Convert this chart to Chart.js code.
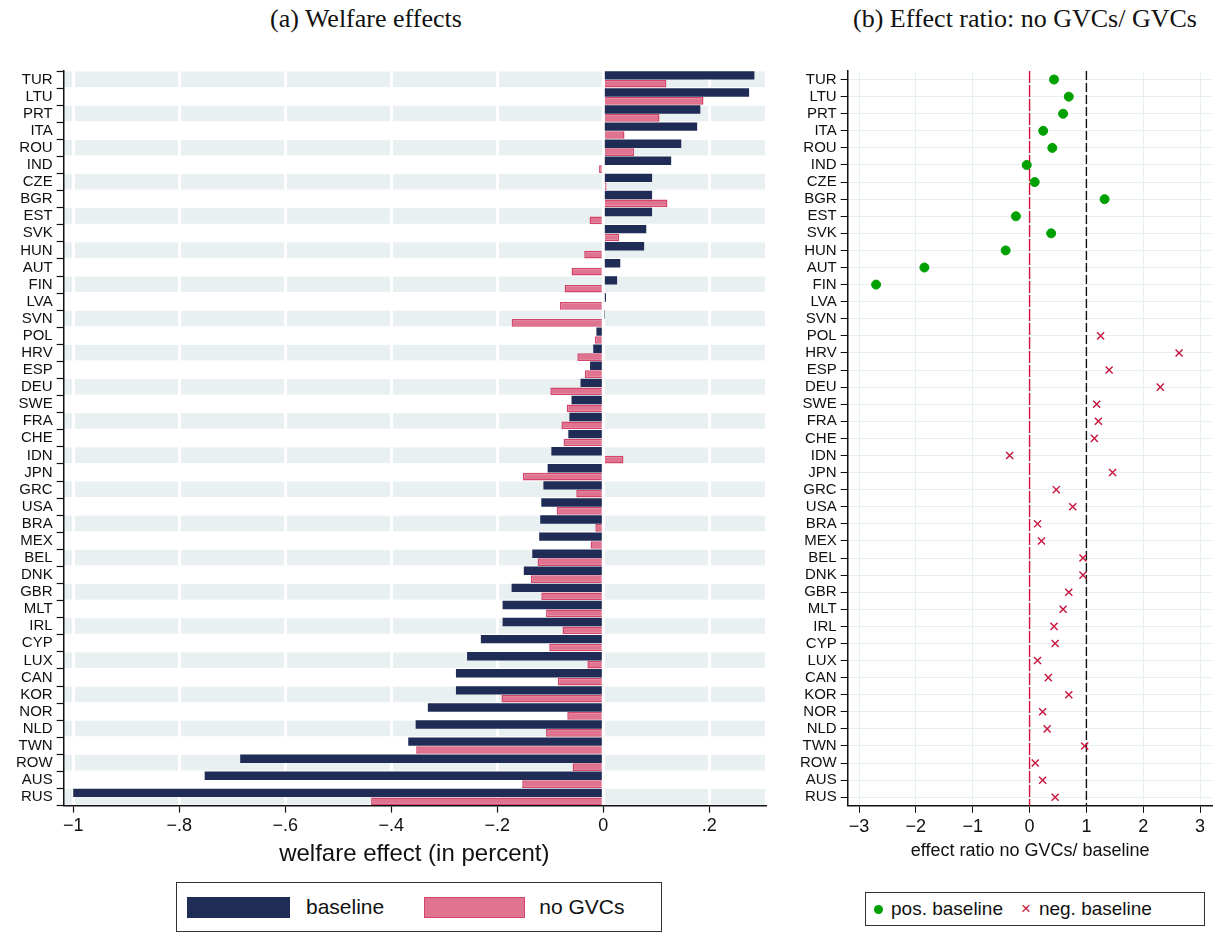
<!DOCTYPE html>
<html><head><meta charset="utf-8">
<script src="https://cdn.jsdelivr.net/npm/chart.js@4/dist/chart.umd.min.js"></script>
<style>
body{margin:0;background:#fff;width:1219px;height:940px;position:relative;font-family:"Liberation Sans",Arial,sans-serif;overflow:hidden}
.t{position:absolute;font-family:"Liberation Serif","Times New Roman",serif;font-size:26px;color:#111;top:4px}
.lg{position:absolute;border:1.5px solid #333;display:flex;align-items:center;font-size:21px;color:#111;box-sizing:border-box}
</style></head><body>
<div class="t" style="left:270px">(a) Welfare effects</div>
<div class="t" style="left:853px">(b) Effect ratio: no GVCs/ GVCs</div>
<div style="position:absolute;left:0;top:43px;width:775px;height:830px"><canvas id="c1"></canvas></div>
<div style="position:absolute;left:780px;top:40px;width:439px;height:826px"><canvas id="c2"></canvas></div>
<div class="lg" style="left:176px;top:882px;width:486px;height:50px;">
 <span style="display:inline-block;width:103px;height:21px;background:#1f2d56;margin-left:10px"></span><span style="margin-left:16px">baseline</span>
 <span style="display:inline-block;width:99px;height:19px;background:#e07490;border:1px solid #d4456b;margin-left:40px"></span><span style="margin-left:14px">no GVCs</span>
</div>
<div class="lg" style="left:865px;top:892px;width:340px;height:34px;font-size:19px">
 <span style="display:inline-block;width:9px;height:9px;border-radius:50%;background:#00a000;margin-left:8px"></span><span style="margin-left:8px">pos. baseline</span>
 <span style="margin-left:18px;color:#c8143c;font-size:17px">×</span><span style="margin-left:8px">neg. baseline</span>
</div>
<script>
const countries=["TUR","LTU","PRT","ITA","ROU","IND","CZE","BGR","EST","SVK","HUN","AUT","FIN","LVA","SVN","POL","HRV","ESP","DEU","SWE","FRA","CHE","IDN","JPN","GRC","USA","BRA","MEX","BEL","DNK","GBR","MLT","IRL","CYP","LUX","CAN","KOR","NOR","NLD","TWN","ROW","AUS","RUS"];
const baseline=[0.285,0.275,0.183,0.177,0.147,0.128,0.092,0.092,0.092,0.081,0.077,0.032,0.026,0.005,0.002,-0.013,-0.019,-0.025,-0.043,-0.060,-0.064,-0.066,-0.098,-0.105,-0.113,-0.117,-0.119,-0.121,-0.134,-0.150,-0.173,-0.190,-0.190,-0.231,-0.257,-0.278,-0.278,-0.331,-0.354,-0.368,-0.685,-0.752,-1.0];
const noGVCs=[0.119,0.189,0.106,0.040,0.058,-0.008,0.006,0.121,-0.026,0.030,-0.036,-0.060,-0.073,-0.082,-0.173,-0.016,-0.049,-0.035,-0.100,-0.069,-0.079,-0.075,0.038,-0.152,-0.051,-0.088,-0.015,-0.024,-0.124,-0.137,-0.117,-0.108,-0.077,-0.102,-0.030,-0.086,-0.192,-0.068,-0.108,-0.353,-0.058,-0.153,-0.438];
const ratioPos=[0.43,0.69,0.59,0.24,0.40,-0.05,0.09,1.32,-0.24,0.38,-0.42,-1.85,-2.70,null,null,null,null,null,null,null,null,null,null,null,null,null,null,null,null,null,null,null,null,null,null,null,null,null,null,null,null,null,null];
const ratioNeg=[null,null,null,null,null,null,null,null,null,null,null,null,null,null,null,1.25,2.63,1.40,2.30,1.18,1.21,1.14,-0.35,1.46,0.47,0.76,0.14,0.21,0.94,0.94,0.69,0.59,0.43,0.45,0.14,0.33,0.69,0.23,0.31,0.97,0.10,0.23,0.45];
const leftTicks=[-1,-0.8,-0.6,-0.4,-0.2,0,0.2];

const fmt=v=>{let s=Math.abs(v)<1e-9?"0":String(Math.round(v*10)/10).replace(/^(-?)0\./,"$1.");return s.replace("-","\u2212");};
const bands={id:'bands',beforeDraw(ch){const {ctx,chartArea:a,scales:{y}}=ch;ctx.save();ctx.fillStyle='#e9f0f2';
 countries.forEach((c,i)=>{if(i%2)return;const p=y.getPixelForValue(i);const h=(y.getPixelForValue(1)-y.getPixelForValue(0));ctx.fillRect(a.left,p-h/2+0.5,a.right-a.left,h-1.5);});ctx.restore();}};
const ytick={font:{size:15,family:'Liberation Sans'},color:'#111',autoSkip:false,padding:4};
new Chart(document.getElementById('c1'),{type:'bar',
 data:{labels:countries,datasets:[
  {label:'baseline',data:baseline,backgroundColor:'#1f2d56',borderWidth:0,barPercentage:1,categoryPercentage:0.98},
  {label:'no GVCs',data:noGVCs,backgroundColor:'#e07490',borderColor:'#d4456b',borderWidth:1.5,barPercentage:0.92,categoryPercentage:0.98}]},
 options:{indexAxis:'y',responsive:true,maintainAspectRatio:false,animation:false,
  layout:{padding:{top:28,right:10,left:12,bottom:0}},
  plugins:{legend:{display:false},tooltip:{enabled:false}},
  scales:{
   x:{min:-1.018,max:0.305,afterBuildTicks:s=>{s.ticks=leftTicks.map(v=>({value:v}));},
    ticks:{callback:v=>fmt(v),font:{size:18,family:'Liberation Sans'},color:'#111',maxRotation:0},
    grid:{color:'#ffffff',lineWidth:3,tickColor:'#111',tickLength:7,tickWidth:1.2},border:{color:'#111',width:1.5},
    title:{display:true,text:'welfare effect (in percent)',font:{size:24,family:'Liberation Sans'},color:'#111',padding:{top:0}}},
   y:{ticks:ytick,grid:{drawOnChartArea:false,tickLength:7,tickColor:'#111',tickWidth:1.2},border:{color:'#111',width:1.5}}}},
 plugins:[bands]});

const vlines={id:'vl',beforeDatasetsDraw(ch){const {ctx,chartArea:a,scales:{x}}=ch;ctx.save();
 [[0,'#d0103a',[12,2]],[1,'#111',[9,3]]].forEach(([v,c,d])=>{const px=x.getPixelForValue(v);ctx.strokeStyle=c;ctx.lineWidth=1.4;ctx.setLineDash(d);ctx.beginPath();ctx.moveTo(px,a.top);ctx.lineTo(px,a.bottom);ctx.stroke();});ctx.restore();}};
new Chart(document.getElementById('c2'),{type:'line',
 data:{labels:countries,datasets:[
  {label:'pos. baseline',data:ratioPos,showLine:false,pointStyle:'circle',pointRadius:4.5,backgroundColor:'#00a000',borderColor:'#00a000',indexAxis:'y'},
  {label:'neg. baseline',data:ratioNeg,showLine:false,pointStyle:'crossRot',pointRadius:5,borderWidth:1.4,borderColor:'#c8143c',backgroundColor:'#c8143c',indexAxis:'y'}]},
 options:{indexAxis:'y',responsive:true,maintainAspectRatio:false,animation:false,
  layout:{padding:{top:31,right:0,left:16,bottom:0}},
  plugins:{legend:{display:false},tooltip:{enabled:false}},
  scales:{
   x:{type:'linear',min:-3.2,max:3.22,afterBuildTicks:s=>{s.ticks=[-3,-2,-1,0,1,2,3].map(v=>({value:v}));},
    ticks:{callback:v=>String(v).replace('-','\u2212'),font:{size:18,family:'Liberation Sans'},color:'#111',maxRotation:0},
    grid:{color:'#e8eff2',lineWidth:1,tickColor:'#111',tickLength:7},border:{color:'#111',width:1.5},
    title:{display:true,text:'effect ratio no GVCs/ baseline',font:{size:18,family:'Liberation Sans'},color:'#111',padding:{top:0}}},
   y:{type:'category',offset:true,ticks:ytick,grid:{color:'#e8eff2',tickColor:'#111',tickLength:7},border:{color:'#111',width:1.5}}}},
 plugins:[vlines]});
</script></body></html>
